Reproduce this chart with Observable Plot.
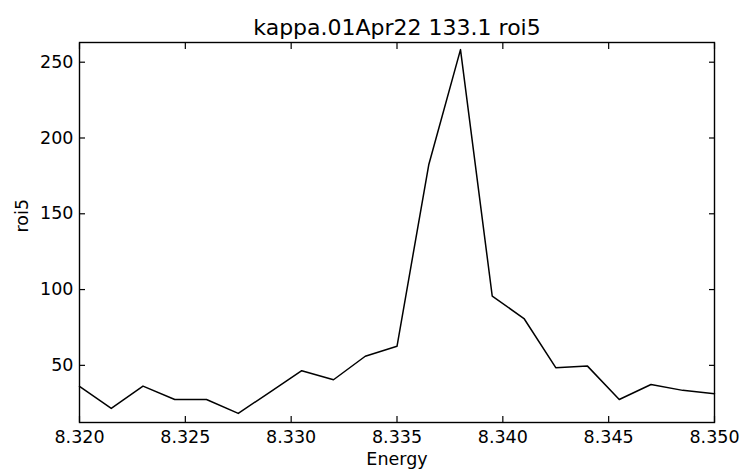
<!DOCTYPE html>
<html>
<head>
<meta charset="utf-8">
<script src="https://cdn.jsdelivr.net/npm/d3@7"></script>
<script src="https://cdn.jsdelivr.net/npm/@observablehq/plot@0.6"></script>
<style>
  html, body { margin: 0; padding: 0; background: #ffffff; }
</style>
</head>
<body>
<div id="chart"></div>
<script>
const title = "kappa.01Apr22 133.1 roi5";
const xLabel = "Energy";
const yLabel = "roi5";

const energy = [8.3200, 8.3215, 8.3230, 8.3245, 8.3260, 8.3275, 8.3290, 8.3305, 8.3320, 8.3335,
                8.3350, 8.3365, 8.3380, 8.3395, 8.3410, 8.3425, 8.3440, 8.3455, 8.3470, 8.3485, 8.3500];
const roi5 = [36.1, 21.6, 36.3, 27.5, 27.5, 18.3, 32.4, 46.5, 40.5, 56.0,
              62.6, 182.3, 258.3, 95.6, 80.9, 48.5, 49.5, 27.5, 37.4, 33.5, 31.3];

const xTicks = [8.320, 8.325, 8.330, 8.335, 8.340, 8.345, 8.350];
const yTicks = [50, 100, 150, 200, 250];

const data = energy.map((e, i) => ({energy: e, roi5: roi5[i]}));

const chart = Plot.plot({
  width: 742,
  height: 471,
  marginLeft: 79,
  marginRight: 28,
  marginTop: 42,
  marginBottom: 49,
  style: {fontFamily: "DejaVu Sans", fontSize: "17.5px", color: "#000", background: "#fff"},
  x: {domain: [8.320, 8.350]},
  y: {domain: [12.3, 263]},
  marks: [
    Plot.line(data, {x: "energy", y: "roi5", stroke: "#000", strokeWidth: 1.5}),
    Plot.frame({stroke: "#000", strokeWidth: 1.4}),
    Plot.axisX(xTicks, {anchor: "bottom", tickSize: -6, text: null, label: null, strokeWidth: 1.2}),
    Plot.axisX(xTicks, {anchor: "top", tickSize: -6, text: null, label: null, strokeWidth: 1.2}),
    Plot.axisX(xTicks, {anchor: "bottom", tickSize: 0, tickPadding: 8, tickFormat: d3.format(".3f"), label: null}),
    Plot.axisY(yTicks, {anchor: "left", tickSize: -6, text: null, label: null, strokeWidth: 1.2}),
    Plot.axisY(yTicks, {anchor: "right", tickSize: -6, text: null, label: null, strokeWidth: 1.2}),
    Plot.axisY(yTicks, {anchor: "left", tickSize: 0, tickPadding: 6, tickFormat: d3.format("d"), label: null}),
    Plot.text([title], {frameAnchor: "top", dy: -15, lineAnchor: "middle", fontSize: 22, text: d => d}),
    Plot.text([xLabel], {frameAnchor: "bottom", dy: 37, lineAnchor: "middle", fontSize: 17.5, text: d => d}),
    Plot.text([yLabel], {frameAnchor: "left", dx: -57, lineAnchor: "middle", rotate: -90, fontSize: 17.5, text: d => d})
  ]
});
document.getElementById("chart").appendChild(chart);
</script>
</body>
</html>
